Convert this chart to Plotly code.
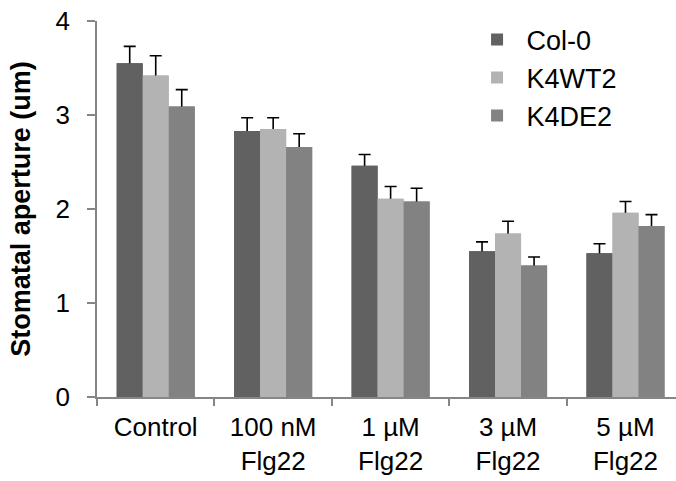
import plotly.graph_objects as go

categories = ["Control", "100 nM<br>Flg22", "1 µM<br>Flg22", "3 µM<br>Flg22", "5 µM<br>Flg22"]
series_names = ["Col-0", "K4WT2", "K4DE2"]
col0 = [3.55, 2.83, 2.46, 1.55, 1.53]
col0_err = [0.18, 0.14, 0.12, 0.10, 0.10]
k4wt2 = [3.42, 2.85, 2.11, 1.74, 1.96]
k4wt2_err = [0.21, 0.12, 0.13, 0.13, 0.12]
k4de2 = [3.09, 2.66, 2.08, 1.40, 1.82]
k4de2_err = [0.18, 0.14, 0.14, 0.09, 0.12]
y_ticks = [0, 1, 2, 3, 4]

colors = ["#616161", "#b3b3b3", "#828282"]
values = [col0, k4wt2, k4de2]
errors = [col0_err, k4wt2_err, k4de2_err]

bar_w = 0.2215
offsets = [-1.5 * bar_w, -0.5 * bar_w, 0.5 * bar_w]
FONT = "Liberation Sans, Arial, sans-serif"

fig = go.Figure()
# bars with error bars
for name, v, e, c, off in zip(series_names, values, errors, colors, offsets):
    fig.add_trace(go.Bar(
        x=categories, y=v, name=name, marker=dict(color=c, line=dict(width=0)),
        width=bar_w, offset=off,
        error_y=dict(type="data", array=e, symmetric=True, color="black",
                     thickness=1.6, width=6),
    ))
# overlay copies to hide the lower half of the error bars
for name, v, c, off in zip(series_names, values, colors, offsets):
    fig.add_trace(go.Bar(
        x=categories, y=v, name=name, marker=dict(color=c, line=dict(width=0)),
        width=bar_w, offset=off, showlegend=False, hoverinfo="skip",
    ))

fig.update_layout(
    width=676, height=481,
    barmode="overlay",
    plot_bgcolor="white", paper_bgcolor="white",
    margin=dict(l=97, r=0, t=21, b=84, autoexpand=False),
    font=dict(family=FONT, size=26, color="black"),
    legend=dict(x=0.64, y=1.015, xanchor="left", yanchor="top",
                font=dict(size=27, family=FONT), bgcolor="rgba(0,0,0,0)",
                tracegroupgap=0, itemwidth=49),
    showlegend=True,
)
fig.update_xaxes(
    range=[-0.5, 4.43], showline=True, linecolor="#868686", linewidth=1.5,
    ticks="outside", tickson="boundaries", ticklen=7, tickcolor="#868686",
    tickwidth=1.5, showgrid=False, zeroline=False, ticklabelstandoff=6,
    tickfont=dict(size=26, family=FONT), automargin=False,
)
fig.update_yaxes(
    range=[0, 4], tickvals=y_ticks, showline=True, linecolor="#868686",
    linewidth=1.5, ticks="outside", ticklen=8, tickcolor="#868686", tickwidth=1.5,
    showgrid=False, zeroline=False, ticklabelstandoff=12,
    ticklabeloverflow="allow",
    tickfont=dict(size=26, family=FONT), automargin=False,
    title=dict(text="<b>Stomatal aperture (um)</b>", font=dict(size=27, family=FONT),
               standoff=17),
)

fig.write_html(
    "out.html",
    config={"displayModeBar": False},
    post_script="document.body.style.margin='0';document.body.style.overflow='hidden';",
)
